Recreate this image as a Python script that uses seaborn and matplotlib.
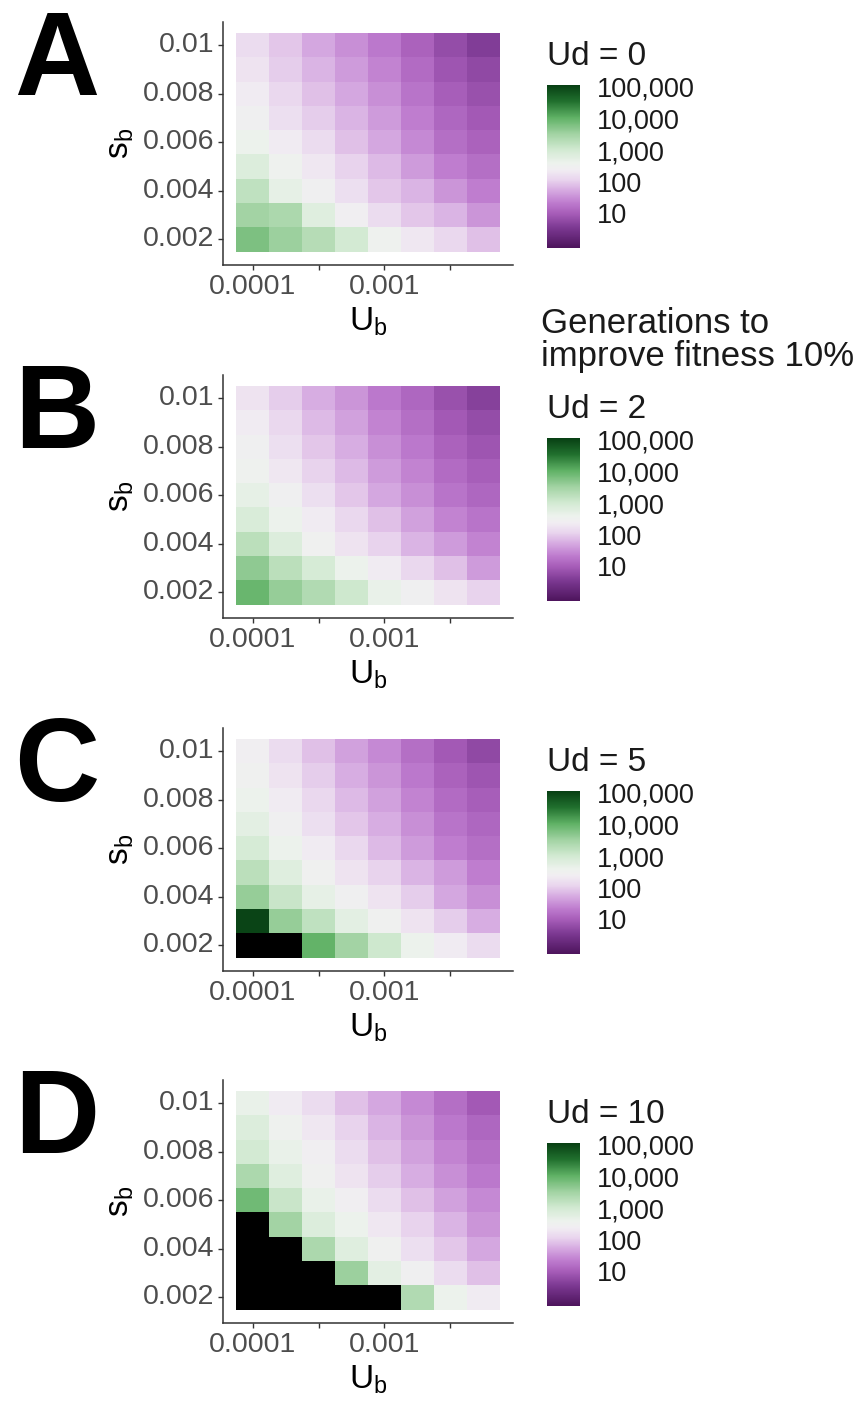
import numpy as np
import pandas as pd
import matplotlib
matplotlib.use("Agg")
import matplotlib.pyplot as plt
import seaborn as sns
from matplotlib.colors import LinearSegmentedColormap

# ---------------- data ----------------
u_b = [0.0001, 0.000178, 0.000316, 0.000562, 0.001, 0.00178, 0.00316, 0.00562]
s_b = [0.010, 0.009, 0.008, 0.007, 0.006, 0.005, 0.004, 0.003, 0.002]
x_tick_values = [0.0001, 0.000316, 0.001, 0.00316]
x_tick_labels = ["0.0001", "", "0.001", ""]
y_tick_values = [0.010, 0.008, 0.006, 0.004, 0.002]
y_tick_labels = ["0.01", "0.008", "0.006", "0.004", "0.002"]
cbar_ticks = [1, 2, 3, 4, 5]          # log10(generations)
cbar_labels = ["10", "100", "1,000", "10,000", "100,000"]
panel_letters = ["A", "B", "C", "D"]
ud_values = [0, 2, 5, 10]
nan = np.nan  # black cells: did not improve within the run

# log10(generations to improve fitness 10%), rows s_b 0.010 -> 0.002, cols U_b
log_gen_A = [
    [2.15, 1.95, 1.70, 1.50, 1.30, 1.05, 0.80, 0.60],
    [2.25, 2.00, 1.80, 1.60, 1.40, 1.15, 0.90, 0.75],
    [2.35, 2.10, 1.90, 1.70, 1.50, 1.25, 1.00, 0.85],
    [2.45, 2.20, 2.00, 1.80, 1.60, 1.35, 1.10, 0.95],
    [2.60, 2.35, 2.15, 1.90, 1.70, 1.45, 1.20, 1.05],
    [2.85, 2.55, 2.30, 2.05, 1.85, 1.60, 1.35, 1.20],
    [3.20, 2.70, 2.45, 2.20, 1.95, 1.80, 1.55, 1.35],
    [3.50, 3.40, 2.80, 2.40, 2.15, 1.95, 1.80, 1.55],
    [3.80, 3.55, 3.30, 3.00, 2.55, 2.30, 2.10, 1.90],
]
log_gen_B = [
    [2.25, 2.00, 1.75, 1.55, 1.30, 1.10, 0.85, 0.65],
    [2.35, 2.10, 1.85, 1.65, 1.40, 1.20, 0.95, 0.80],
    [2.45, 2.20, 1.95, 1.75, 1.50, 1.30, 1.05, 0.90],
    [2.55, 2.30, 2.05, 1.85, 1.60, 1.40, 1.15, 1.00],
    [2.70, 2.45, 2.20, 1.95, 1.70, 1.50, 1.25, 1.10],
    [2.90, 2.60, 2.35, 2.10, 1.90, 1.65, 1.40, 1.25],
    [3.25, 2.85, 2.50, 2.25, 2.05, 1.80, 1.60, 1.40],
    [3.65, 3.25, 2.95, 2.60, 2.35, 2.10, 1.90, 1.60],
    [3.95, 3.60, 3.35, 3.05, 2.65, 2.45, 2.25, 2.05],
]
log_gen_C = [
    [2.40, 2.15, 1.90, 1.65, 1.45, 1.20, 0.95, 0.75],
    [2.50, 2.25, 2.00, 1.75, 1.55, 1.30, 1.05, 0.90],
    [2.60, 2.35, 2.10, 1.85, 1.65, 1.40, 1.15, 1.00],
    [2.75, 2.45, 2.20, 1.95, 1.75, 1.50, 1.25, 1.10],
    [2.95, 2.60, 2.35, 2.10, 1.85, 1.60, 1.35, 1.20],
    [3.25, 2.80, 2.50, 2.25, 2.05, 1.80, 1.60, 1.35],
    [3.60, 3.10, 2.70, 2.45, 2.25, 2.00, 1.70, 1.50],
    [5.00, 3.60, 3.20, 2.75, 2.50, 2.25, 2.00, 1.75],
    [nan, nan, 4.00, 3.50, 3.05, 2.60, 2.35, 2.15],
]
log_gen_D = [
    [2.65, 2.35, 2.15, 1.90, 1.70, 1.45, 1.20, 0.95],
    [2.85, 2.55, 2.30, 2.05, 1.80, 1.55, 1.30, 1.10],
    [3.00, 2.65, 2.40, 2.15, 1.90, 1.65, 1.40, 1.20],
    [3.40, 2.80, 2.50, 2.25, 2.00, 1.75, 1.50, 1.30],
    [3.90, 3.10, 2.65, 2.40, 2.15, 1.90, 1.65, 1.45],
    [nan, 3.50, 2.85, 2.60, 2.30, 2.05, 1.80, 1.55],
    [nan, nan, 3.40, 2.80, 2.50, 2.20, 1.95, 1.70],
    [nan, nan, nan, 3.55, 2.75, 2.45, 2.15, 1.90],
    [nan, nan, nan, nan, nan, 3.35, 2.60, 2.35],
]
panel_data = [log_gen_A, log_gen_B, log_gen_C, log_gen_D]

# ---------------- style ----------------
sns.set_theme(style="white")
plt.rcParams["font.family"] = ["Liberation Sans", "DejaVu Sans"]
plt.rcParams["mathtext.fontset"] = "custom"
plt.rcParams["mathtext.rm"] = "Liberation Sans"
plt.rcParams["mathtext.it"] = "Liberation Sans:italic"

VMIN, VMAX = -0.1, 5.06
anchors = [
    (0.00, "#4d145c"),
    (0.12, "#7a3790"),
    (0.21, "#a65cb8"),
    (0.28, "#bf7dcf"),
    (0.35, "#d5a8e0"),
    (0.42, "#e9d5ee"),
    (0.48, "#f1edf2"),
    (0.52, "#edf2ed"),
    (0.60, "#d3ead3"),
    (0.70, "#a2d3a3"),
    (0.80, "#5fb165"),
    (0.90, "#21702e"),
    (1.00, "#073f13"),
]
cmap = LinearSegmentedColormap.from_list("prgn_custom", anchors, N=512)
cmap.set_bad("black")

W, H = 865, 1404
fig = plt.figure(figsize=(W / 100, H / 100), dpi=100)
fig.patch.set_facecolor("white")

axes_tops = [22, 375, 728, 1080]
AX_L, AX_W, AX_H = 223, 290, 243
CB_L, CB_W, CB_H, CB_OFF = 547, 33, 163, 63

for k, (data, letter, ud) in enumerate(zip(panel_data, panel_letters, ud_values)):
    top = axes_tops[k]
    ax = fig.add_axes([AX_L / W, 1 - (top + AX_H) / H, AX_W / W, AX_H / H])
    cax = fig.add_axes([CB_L / W, 1 - (top + CB_OFF + CB_H) / H, CB_W / W, CB_H / H])

    df = pd.DataFrame(np.array(data, dtype=float), index=s_b, columns=u_b)
    sns.heatmap(df, ax=ax, cmap=cmap, vmin=VMIN, vmax=VMAX, cbar=True,
                cbar_ax=cax, linewidths=0)

    ncol, nrow = len(u_b), len(s_b)
    ax.set_xlim(-0.4, ncol + 0.4)
    ax.set_ylim(nrow + 0.55, -0.45)

    for side in ["top", "right"]:
        ax.spines[side].set_visible(False)
    for side in ["left", "bottom"]:
        ax.spines[side].set_visible(True)
        ax.spines[side].set_color("#333333")
        ax.spines[side].set_linewidth(1.1)

    xt = [u_b.index(v) + 0.5 for v in x_tick_values]
    yt = [s_b.index(v) + 0.5 for v in y_tick_values]
    ax.set_xticks(xt)
    ax.set_xticklabels(x_tick_labels, rotation=0)
    ax.set_yticks(yt)
    ax.set_yticklabels(y_tick_labels, rotation=0, va="center")
    ax.tick_params(axis="both", which="major", bottom=True, left=True,
                   length=3.5, width=1.0, color="#333333", labelsize=20.5,
                   labelcolor="#4d4d4d", pad=3)
    ax.set_xlabel(r"$\mathregular{U_b}$", fontsize=24, color="black", labelpad=4)
    ax.set_ylabel(r"$\mathregular{s_b}$", fontsize=24, color="black", labelpad=5)

    cbar = ax.collections[0].colorbar
    cbar.set_ticks(cbar_ticks)
    cbar.set_ticklabels(cbar_labels)
    cbar.outline.set_visible(False)
    cax.tick_params(axis="y", direction="in", length=5, width=1.0, color="white",
                    labelsize=19.5, labelcolor="#1a1a1a", pad=12,
                    left=True, right=True, labelleft=False, labelright=True)

    fig.text(CB_L / W, 1 - (top + 43) / H, f"Ud = {ud}", fontsize=24,
             color="#1a1a1a", ha="left", va="baseline")
    fig.text(14 / W, 1 - (top + 73) / H, letter, fontsize=85,
             fontweight="bold", color="black", ha="left", va="baseline")

fig.text(541 / W, 1 - 307 / H, "Generations to\nimprove fitness 10%",
         fontsize=25, color="#1a1a1a", ha="left", va="top", linespacing=1.0)

fig.savefig("out.png", dpi=100, facecolor="white")
